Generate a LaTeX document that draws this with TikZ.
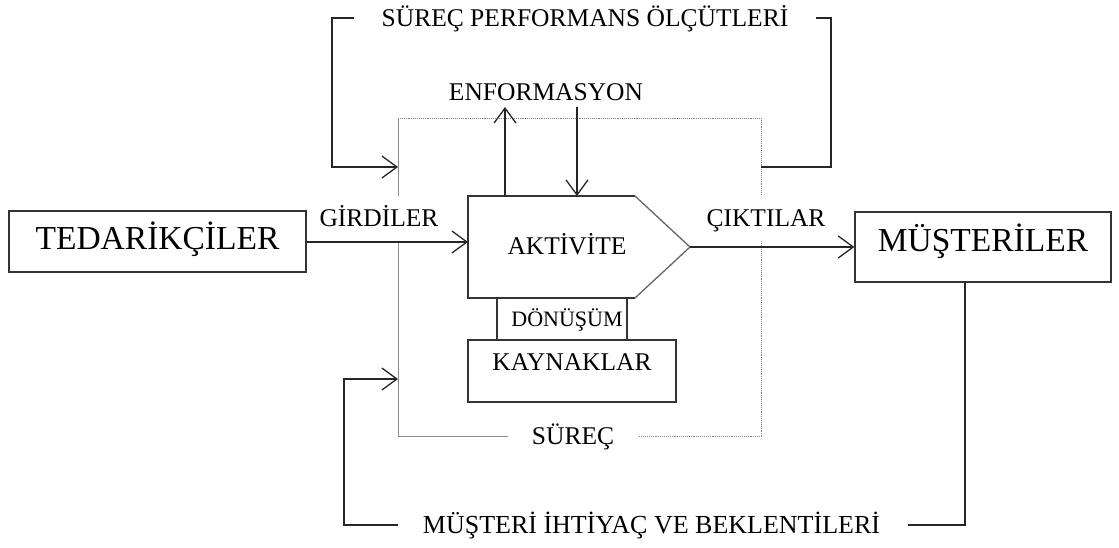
\documentclass[tikz,border=0pt]{standalone}
\usepackage{fontspec}
\setmainfont{Liberation Serif}
\usetikzlibrary{arrows.meta,calc}
\tikzset{
  bigtxt/.style={font=\fontsize{33.5}{40}\selectfont, text height=22pt},
  lbl/.style={font=\fontsize{25.5}{30}\selectfont, inner sep=0pt, text height=16.9pt, text depth=0pt},
  smalllbl/.style={font=\fontsize{22}{26}\selectfont, inner sep=0pt, text height=14.6pt, text depth=0pt},
  boxline/.style={draw=black!80, line width=1.3pt},
  bigbox/.style={bigtxt, boxline, inner sep=0pt},
  conn/.style={draw=black!85, line width=1.3pt},
  arr/.style={conn, -{Straight Barb[length=15pt,width=22pt]}},
  procsolid/.style={draw=black!45, line width=0.9pt},
  procdot/.style={draw=black!50, line width=0.9pt, densely dotted},
}
\begin{document}
\begin{tikzpicture}[x=1pt,y=-1pt]
\useasboundingbox[fill=white] (0,0) rectangle (1119,547);

% process frame
\coordinate (fTL) at (398,118);
\coordinate (fTR) at (761,118);
\coordinate (fBR) at (761,436);
\coordinate (fBL) at (398,436);
\draw[procsolid] (fTL) -- (fBL) -- (575,436);
\draw[procdot] (fTL) -- (fTR) -- (fBR) -- (575,436);

% labels that sit across the frame
\node[lbl, fill=white, inner xsep=3pt, inner ysep=14pt] (gir) at (379,218.5) {GİRDİLER};
\node[lbl, fill=white, inner xsep=3pt, inner ysep=14pt] (cik) at (766,218.5) {ÇIKTILAR};
\node[lbl, fill=white, inner xsep=24pt, inner ysep=4pt] (sur) at (573,436) {SÜREÇ};

% end boxes
\node[bigbox, minimum width=297pt, minimum height=61pt, text depth=6pt] (ted) at (157.5,241.5) {TEDARİKÇİLER};
\node[bigbox, minimum width=256pt, minimum height=70pt, text depth=14pt] (mus) at (983,247) {MÜŞTERİLER};

% activity pentagon
\coordinate (pA) at (468,196);
\coordinate (pB) at (635,196);
\coordinate (pC) at (690,247);
\coordinate (pD) at (635,298);
\coordinate (pE) at (468,298);
\draw[boxline, line join=miter] (pB) -- (pA) -- (pE) -- (pD);
\draw[draw=black!60, line width=1.3pt] (pB) -- (pC) -- (pD);
\node[lbl] (akt) at (567,246) {AKTİVİTE};

% resources
\node[boxline, lbl, minimum width=208pt, minimum height=62pt, text depth=17pt] (kay) at (572,371) {KAYNAKLAR};
\coordinate (d1) at (497,298);
\coordinate (d2) at (627,298);
\draw[boxline] (d1) -- (d1 |- kay.north);
\draw[boxline] (d2) -- (d2 |- kay.north);
\node[smalllbl] (don) at (567,319) {DÖNÜŞÜM};

% information
\node[lbl] (enf) at (546,92.5) {ENFORMASYON};
\coordinate (upS) at (505,196);
\coordinate (upE) at (505,107);
\coordinate (dnS) at (577,107);
\coordinate (dnE) at (577,196);
\draw[arr] (upS) -- (upE);
\draw[arr] (dnS) -- (dnE);

% inputs and outputs
\draw[arr] (ted.east |- 0,242) -- (pA |- 0,242);
\draw[arr] (pC) -- (mus.west |- pC);

% process performance feedback
\node[lbl] (spm) at (585,18) {SÜREÇ PERFORMANS ÖLÇÜTLERİ};
\coordinate (fbL) at (332,167);
\coordinate (fbR) at (831,167);
\coordinate (inP) at (398,167);
\coordinate (outP) at (761,167);
\draw[arr] ([xshift=-27pt]spm.west) -| (fbL) -- (inP);
\draw[conn] ([xshift=27pt]spm.east) -| (fbR) -- (outP);

% customer needs feedback
\node[lbl, font=\fontsize{26}{30}\selectfont] (mie) at (651.5,525) {MÜŞTERİ İHTİYAÇ VE BEKLENTİLERİ};
\coordinate (bbL) at (344,525);
\coordinate (inQ) at (398,379);
\draw[arr] ([xshift=-25pt]mie.west) -- (bbL) |- (inQ);
\draw[conn] ([xshift=-18pt]mus.south) |- ([xshift=28pt]mie.east);
\end{tikzpicture}
\end{document}
